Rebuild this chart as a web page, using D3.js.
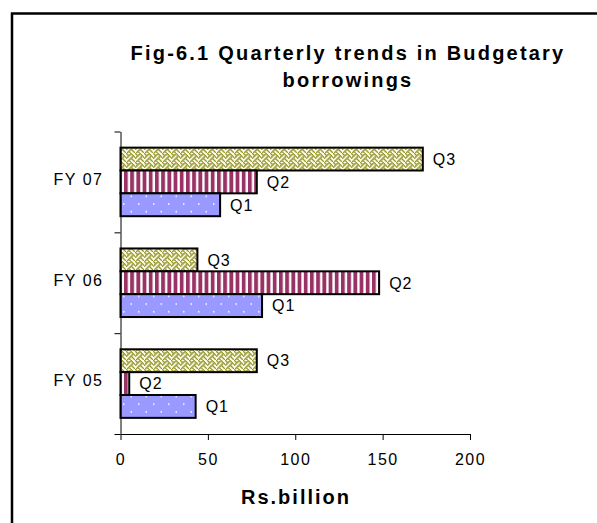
<!DOCTYPE html>
<html>
<head>
<meta charset="utf-8">
<script src="https://cdn.jsdelivr.net/npm/d3@7"></script>
<style>
  html, body { margin: 0; padding: 0; background: #fff; }
  svg { display: block; }
  text { font-family: "Liberation Sans", Arial, sans-serif; fill: #000; }
</style>
</head>
<body>
<svg id="chart" width="597" height="523"></svg>
<script>
// Budgetary borrowings by quarter, Rs. billion
const categories = ["FY 07", "FY 06", "FY 05"];
const quarters = ["Q3", "Q2", "Q1"];          // drawn top to bottom inside each group
const q1Values = [57, 81, 43];
const q2Values = [78, 148, 5];
const q3Values = [173, 44, 78];
const xTicks = [0, 50, 100, 150, 200];
const titleLines = ["Fig-6.1 Quarterly trends in Budgetary", "borrowings"];
const axisTitle = "Rs.billion";

const seriesValues = { Q1: q1Values, Q2: q2Values, Q3: q3Values };
const rows = [];
categories.forEach((c, i) => quarters.forEach(q => rows.push({ cat: c, q, v: seriesValues[q][i] })));

const svg = d3.select("#chart");
const defs = svg.append("defs");

// Q1: periwinkle with small white dots
const pDots = defs.append("pattern").attr("id", "pDots")
  .attr("patternUnits", "userSpaceOnUse").attr("width", 15).attr("height", 15.4);
pDots.append("rect").attr("width", 15).attr("height", 15.4).attr("fill", "#9999FF");
pDots.append("rect").attr("x", 3).attr("y", 3).attr("width", 1.5).attr("height", 1.5).attr("fill", "#fff");
pDots.append("rect").attr("x", 10.5).attr("y", 10.7).attr("width", 1.5).attr("height", 1.5).attr("fill", "#fff");

// Q2: plum vertical stripes
const pStripe = defs.append("pattern").attr("id", "pStripe")
  .attr("patternUnits", "userSpaceOnUse").attr("width", 6.2).attr("height", 10);
pStripe.append("rect").attr("width", 6.2).attr("height", 10).attr("fill", "#fff");
pStripe.append("rect").attr("x", 0).attr("width", 3.8).attr("height", 10).attr("fill", "#993366");

// Q3: olive weave on cream
const weaveBits = [0x88, 0x54, 0x22, 0x45, 0x88, 0x14, 0x22, 0x51];
const cell = 1.125;
const pWeave = defs.append("pattern").attr("id", "pWeave")
  .attr("patternUnits", "userSpaceOnUse").attr("width", 8 * cell).attr("height", 8 * cell);
pWeave.append("rect").attr("width", 8 * cell).attr("height", 8 * cell).attr("fill", "#FFFFF0");
weaveBits.forEach((b, r) => {
  for (let c = 0; c < 8; c++) {
    if (b & (0x80 >> c)) {
      pWeave.append("rect").attr("x", c * cell - 0.2).attr("y", r * cell - 0.2)
        .attr("width", cell * 1.45).attr("height", cell * 1.45).attr("fill", "#999933");
    }
  }
});
const fills = { Q1: "url(#pDots)", Q2: "url(#pStripe)", Q3: "url(#pWeave)" };

// Outer chart frame
svg.append("rect").attr("x", 12).attr("y", 13.5).attr("width", 640).attr("height", 560)
  .attr("fill", "none").attr("stroke", "#000").attr("stroke-width", 2.5);

// Scales
const x = d3.scaleLinear().domain([0, 200]).range([120.5, 470]);
const y0 = d3.scaleBand().domain(categories).range([131.5, 434]).paddingInner(0.32).paddingOuter(0.16);
const y1 = d3.scaleBand().domain(quarters).range([0, y0.bandwidth()]);
const yEdge = d3.scaleLinear().domain([0, categories.length]).range([131.5, 434]);

// Title
svg.append("g").selectAll("text").data(titleLines).join("text")
  .attr("x", 348).attr("y", (d, i) => 59.5 + i * 27.5)
  .attr("text-anchor", "middle")
  .style("font-size", "20px").style("font-weight", "bold").style("letter-spacing", "2.2px")
  .text(d => d);

// Bars
const bars = svg.append("g");
bars.selectAll("rect").data(rows).join("rect")
  .attr("x", x(0))
  .attr("y", d => y0(d.cat) + y1(d.q))
  .attr("width", d => x(d.v) - x(0))
  .attr("height", y1.bandwidth())
  .attr("fill", d => fills[d.q])
  .attr("stroke", "#000").attr("stroke-width", 2);

// Series labels at bar ends
svg.append("g").selectAll("text").data(rows).join("text")
  .attr("x", d => x(d.v) + 10)
  .attr("y", d => y0(d.cat) + y1(d.q) + y1.bandwidth() / 2)
  .attr("dy", "0.36em")
  .style("font-size", "16px").style("letter-spacing", "1px")
  .text(d => d.q);

// Y axis with ticks at category boundaries
const yAxis = svg.append("g").attr("transform", "translate(120.5,0)")
  .call(d3.axisLeft(yEdge).tickValues(d3.range(0, categories.length + 1))
    .tickSize(6).tickSizeOuter(0).tickFormat(""));
yAxis.selectAll("path,line").attr("stroke", "#000");

// Category labels
svg.append("g").selectAll("text").data(categories).join("text")
  .attr("x", 103.5)
  .attr("y", d => y0(d) + y0.bandwidth() / 2 - 3)
  .attr("dy", "0.36em")
  .attr("text-anchor", "end")
  .style("font-size", "16px").style("letter-spacing", "1.5px")
  .text(d => d);

// X axis
const xAxis = svg.append("g").attr("transform", "translate(0,434)")
  .call(d3.axisBottom(x).tickValues(xTicks).tickSize(6).tickSizeOuter(0).tickPadding(14));
xAxis.selectAll("path,line").attr("stroke", "#000");
xAxis.selectAll("text").style("font-size", "16px").style("letter-spacing", "1.5px")
  .style("font-family", "'Liberation Sans', Arial, sans-serif").attr("fill", "#000");

// X axis title
svg.append("text").attr("x", 296).attr("y", 503.5).attr("text-anchor", "middle")
  .style("font-size", "20px").style("font-weight", "bold").style("letter-spacing", "2px")
  .text(axisTitle);
</script>
</body>
</html>
